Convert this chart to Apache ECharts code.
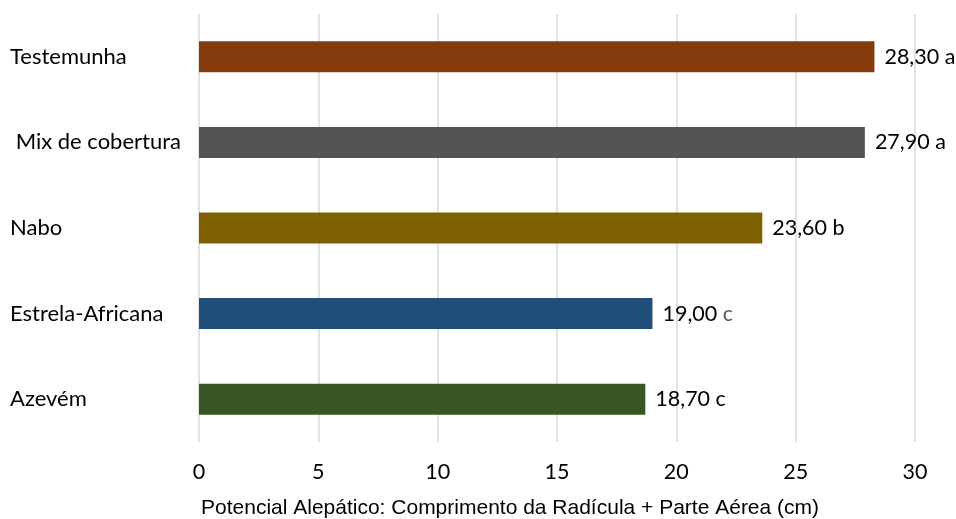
<!DOCTYPE html>
<html>
<head>
<meta charset="utf-8">
<script src="https://cdn.jsdelivr.net/npm/echarts@6/dist/echarts.min.js"></script>
<style>
  html, body { margin: 0; padding: 0; background: #ffffff; }
  #chart { width: 956px; height: 519px; }
</style>
</head>
<body>
<div id="chart"></div>
<script>
// Treatments, top to bottom
const categories = ['Testemunha', ' Mix de cobertura', 'Nabo', 'Estrela-Africana', 'Azevém'];
// Root + shoot length (cm)
const values = [28.30, 27.90, 23.60, 19.00, 18.70];
// Significance letters
const letters = ['a', 'a', 'b', 'c', 'c'];
const barColors = ['#843C0C', '#545454', '#7F6000', '#1F4E79', '#375623'];
const xTicks = [0, 5, 10, 15, 20, 25, 30];
const axisTitle = 'Potencial Alepático: Comprimento da Radícula + Parte Aérea (cm)';

const chart = echarts.init(document.getElementById('chart'), null, { renderer: 'canvas' });

const fmt = v => v.toFixed(2).replace('.', ',');

chart.setOption({
  animation: false,
  backgroundColor: '#ffffff',
  grid: { left: 199, right: 41, top: 14, bottom: 77, containLabel: false },
  title: {
    text: axisTitle,
    left: 196,
    top: 493,
    textStyle: {
      fontFamily: 'Liberation Sans',
      fontSize: 21,
      fontWeight: 'normal',
      color: '#000000'
    }
  },
  xAxis: {
    type: 'value',
    min: xTicks[0],
    max: xTicks[xTicks.length - 1],
    interval: xTicks[1] - xTicks[0],
    axisLine: { show: false },
    axisTick: { show: false },
    splitLine: { show: true, lineStyle: { color: '#d9d9d9', width: 1.5 } },
    axisLabel: {
      margin: 19,
      fontFamily: 'Lato',
      fontSize: 21.5,
      color: '#000000'
    }
  },
  yAxis: {
    type: 'category',
    data: categories,
    inverse: true,
    axisLine: { show: false },
    axisTick: { show: false },
    splitLine: { show: false },
    axisLabel: {
      align: 'left',
      margin: 189,
      fontFamily: 'Lato',
      fontSize: 22,
      color: '#000000',
      verticalAlign: 'middle'
    }
  },
  series: [{
    type: 'bar',
    barWidth: 31,
    data: values.map((v, i) => ({ value: v, itemStyle: { color: barColors[i] } })),
    label: {
      show: true,
      position: 'right',
      distance: 10,
      fontFamily: 'Lato',
      fontSize: 21.5,
      color: '#000000',
      formatter: p => {
        const l = letters[p.dataIndex];
        return fmt(p.value) + ' ' + (p.dataIndex === 3 ? '{g|' + l + '}' : l);
      },
      rich: {
        g: { fontFamily: 'Lato', fontSize: 21.5, color: '#595959' }
      }
    }
  }]
});
</script>
</body>
</html>
